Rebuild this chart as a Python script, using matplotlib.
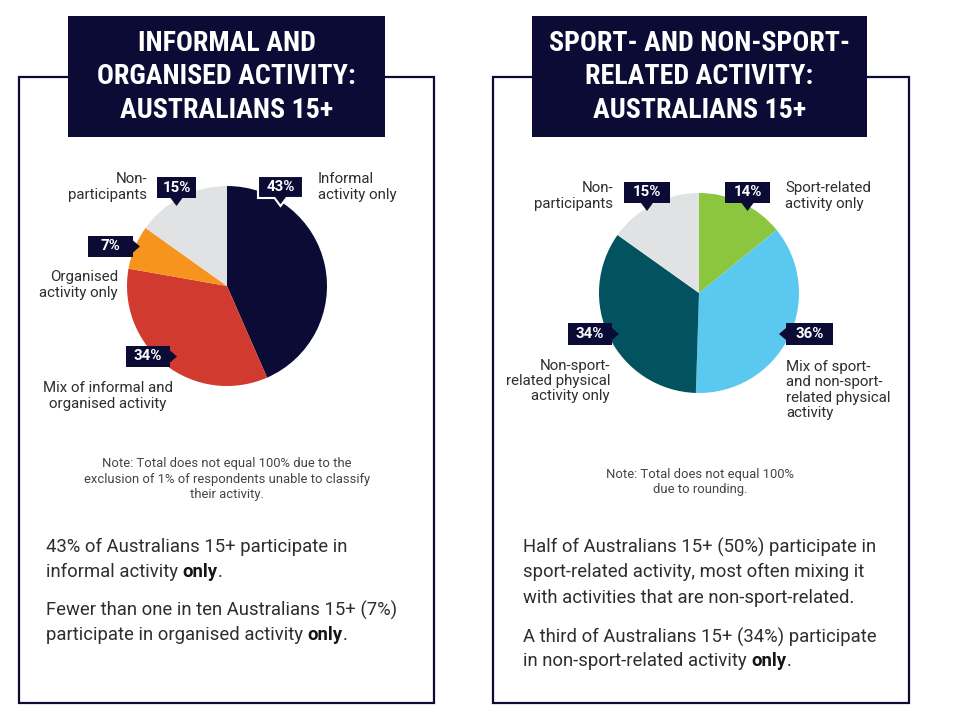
import matplotlib
matplotlib.use("Agg")
import matplotlib.pyplot as plt
from matplotlib.patches import Rectangle, Polygon

# Donnees des deux camemberts (ordre horaire depuis midi)
left_labels = ["Informal activity only", "Mix of informal and organised activity",
               "Organised activity only", "Non-participants"]
left_values = [43, 34, 7, 15]
left_colors = ["#0b0b36", "#d13a2e", "#f7941d", "#e1e2e4"]

right_labels = ["Sport-related activity only",
                "Mix of sport- and non-sport-related physical activity",
                "Non-sport-related physical activity only", "Non-participants"]
right_values = [14, 36, 34, 15]
right_colors = ["#8cc63f", "#5bc8f0", "#02525f", "#e1e2e4"]

W, H = 959, 723
NAVY = "#0b0b36"
TXT = "#2e2e2e"
FONT = ["Roboto", "DejaVu Sans"]
TFONT = ["Roboto Condensed", "Liberation Sans Narrow", "DejaVu Sans"]


def Y(y):
    # coordonnees pixel (origine en haut) -> donnees
    return H - y


def pt(px):
    return px * 0.72


fig = plt.figure(figsize=(W / 100, H / 100), dpi=100)
ax = fig.add_axes([0, 0, 1, 1])

# Camemberts
ax.pie(left_values, colors=left_colors, startangle=90, counterclock=False,
       center=(227, Y(286)), radius=100, wedgeprops=dict(linewidth=0))
ax.pie(right_values, colors=right_colors, startangle=90, counterclock=False,
       center=(699, Y(293)), radius=100, wedgeprops=dict(linewidth=0))

ax.set_xlim(0, W)
ax.set_ylim(0, H)
ax.set_aspect("equal")
ax.axis("off")

# Cadres et titres
for (x0, x1, tx0, tx1, title) in [
    (19, 434, 68, 385, "INFORMAL AND\nORGANISED ACTIVITY:\nAUSTRALIANS 15+"),
    (493, 909, 532, 867, "SPORT- AND NON-SPORT-\nRELATED ACTIVITY:\nAUSTRALIANS 15+"),
]:
    ax.add_patch(Rectangle((x0, Y(703)), x1 - x0, 703 - 77, fill=False,
                           edgecolor=NAVY, linewidth=1.6, zorder=1))
    ax.add_patch(Rectangle((tx0, Y(137)), tx1 - tx0, 137 - 16,
                           facecolor=NAVY, edgecolor="none", zorder=2))
    ax.text((tx0 + tx1) / 2, Y(77), title, ha="center", va="center",
            color="white", fontsize=pt(28), fontweight="bold",
            family=TFONT, linespacing=1.29, zorder=3)


def tag(x0, y0, x1, y1, side, text, border=False):
    # boite etiquette avec petite fleche
    cx, cy = (x0 + x1) / 2, (y0 + y1) / 2
    pts = [(x0, y0), (x1, y0), (x1, y1), (x0, y1)]
    s = 6
    if side == "down":
        pts = [(x0, y0), (x1, y0), (x1, y1), (cx + s, y1), (cx, y1 + s + 2),
               (cx - s, y1), (x0, y1)]
    elif side == "right":
        pts = [(x0, y0), (x1, y0), (x1, cy - s), (x1 + s + 1, cy),
               (x1, cy + s), (x1, y1), (x0, y1)]
    elif side == "left":
        pts = [(x0, y0), (x1, y0), (x1, y1), (x0, y1), (x0, cy + s),
               (x0 - s - 1, cy), (x0, cy - s)]
    poly = Polygon([(px, Y(py)) for px, py in pts], closed=True,
                   facecolor=NAVY, edgecolor="white" if border else "none",
                   linewidth=1.5, zorder=5)
    ax.add_patch(poly)
    ax.text(cx, Y(cy), text, ha="center", va="center", color="white",
            fontsize=pt(15), fontweight="bold", family=FONT, zorder=6)


def lab(x, y, text, ha):
    ax.text(x, Y(y), text, ha=ha, va="center", color=TXT, fontsize=pt(15),
            family=FONT, linespacing=1.12, zorder=6)


# Etiquettes gauche
tag(157, 177, 196, 198, "down", f"{left_values[3]}%")
tag(258, 176, 303, 198, "down", f"{left_values[0]}%", border=True)
tag(88, 236, 133, 257, "right", f"{left_values[2]}%")
tag(126, 346, 170, 367, "right", f"{left_values[1]}%")
lab(147, 187, "Non-\nparticipants", "right")
lab(318, 187, "Informal\nactivity only", "left")
lab(118, 285, "Organised\nactivity only", "right")
lab(108, 396, "Mix of informal and\norganised activity", "center")

# Etiquettes droite
tag(624, 182, 670, 203, "down", f"{right_values[3]}%")
tag(725, 182, 770, 203, "down", f"{right_values[0]}%")
tag(568, 323, 612, 345, "right", f"{right_values[2]}%")
tag(786, 323, 833, 345, "left", f"{right_values[1]}%")
lab(613, 196, "Non-\nparticipants", "right")
lab(785, 196, "Sport-related\nactivity only", "left")
lab(610, 381, "Non-sport-\nrelated physical\nactivity only", "right")
lab(786, 390, "Mix of sport-\nand non-sport-\nrelated physical\nactivity", "left")

# Notes
ax.text(227, Y(479), "Note: Total does not equal 100% due to the\n"
        "exclusion of 1% of respondents unable to classify\ntheir activity.",
        ha="center", va="center", color="#444444", fontsize=pt(13),
        family=FONT, linespacing=1.25)
ax.text(700, Y(482), "Note: Total does not equal 100%\ndue to rounding.",
        ha="center", va="center", color="#444444", fontsize=pt(13),
        family=FONT, linespacing=1.25)


def body(x, y, plain, bold=None):
    t = ax.text(x, Y(y), plain, ha="left", va="center", color=TXT,
                fontsize=pt(18.5), family=FONT)
    if bold:
        b = ax.annotate(bold, xy=(1, 0), xycoords=t, xytext=(3.5, 0),
                        textcoords="offset points", ha="left", va="bottom",
                        color="#151515", fontsize=pt(18.5), family=FONT,
                        fontweight="semibold")
        ax.annotate(".", xy=(1, 0), xycoords=b, ha="left", va="bottom",
                    color=TXT, fontsize=pt(18.5), family=FONT)


body(46, 547, "43% of Australians 15+ participate in")
body(46, 572, "informal activity", "only")
body(46, 610, "Fewer than one in ten Australians 15+ (7%)")
body(46, 635, "participate in organised activity", "only")

body(523, 547, "Half of Australians 15+ (50%) participate in")
body(523, 572, "sport-related activity, most often mixing it")
body(523, 598, "with activities that are non-sport-related.")
body(523, 637, "A third of Australians 15+ (34%) participate")
body(523, 661, "in non-sport-related activity", "only")

fig.savefig("out.png", dpi=100, facecolor="white")
